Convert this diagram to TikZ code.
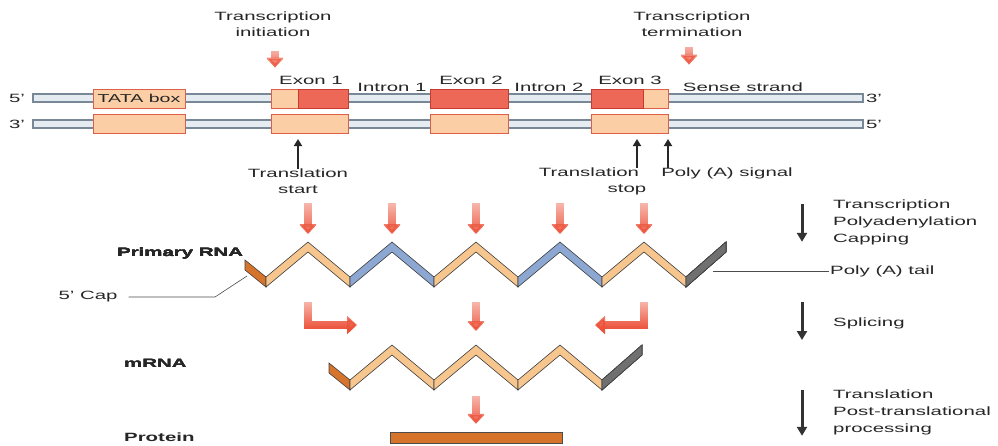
\documentclass[tikz,border=0pt]{standalone}
\usepackage{fontspec}
\setmainfont{Liberation Sans}[FakeStretch=1.7]
\usetikzlibrary{arrows.meta,fadings,positioning}
\definecolor{arrred}{RGB}{236,82,58}
\definecolor{boxfill}{RGB}{252,206,166}
\definecolor{boxline}{RGB}{222,96,74}
\definecolor{codfill}{RGB}{238,104,88}
\definecolor{codline}{RGB}{200,58,48}
\definecolor{strandfill}{RGB}{228,235,241}
\definecolor{strandline}{RGB}{120,136,150}
\definecolor{exontan}{RGB}{246,198,142}
\definecolor{introblue}{RGB}{140,168,210}
\definecolor{tailgray}{RGB}{112,112,112}
\definecolor{capbrown}{RGB}{214,116,44}
\tikzfading[name=fadeup, top color=transparent!65, bottom color=transparent!0]
\tikzset{
  lbl/.style={font=\fontsize{12}{16}\selectfont, align=center, inner sep=1pt, text=black!85},
  boldlbl/.style={lbl, font=\fontsize{12}{16}\selectfont\bfseries},
  stagelbl/.style={lbl, font=\fontsize{12}{17}\selectfont, align=left, anchor=west},
  strand/.style={fill=strandfill, draw=strandline, line width=1.3pt},
  genebox/.style={fill=boxfill, draw=boxline, line width=1pt},
  codbox/.style={fill=codfill, draw=codline, line width=1pt},
  redarr/.style={draw=arrred, line width=8pt, line join=miter, -{Triangle[length=10pt,width=18pt]}, path fading=fadeup},
  blackarr/.style={draw=black!85, line width=2.2pt, -{Triangle[length=7pt,width=8pt]}},
  stagearr/.style={draw=black!80, line width=3pt, -{Triangle[length=9pt,width=10pt]}},
  band/.style={draw=black!75, line width=0.6pt, line join=miter},
  leader/.style={draw=black!70, line width=0.6pt}
}
% one V of the RNA strip: left bottom corner x, y, colour
\newcommand{\vband}[3]{\filldraw[band, fill=#3] (#1,#2) -- ++(42,-35) -- ++(42,35) -- ++(0,-10) -- ++(-42,-35) -- ++(-42,35) -- cycle;}
\newcommand{\capband}[2]{\filldraw[band, fill=capbrown] (#1,#2) -- ++(-21,-17) -- ++(0,-10) -- ++(21,17) -- cycle;}
\newcommand{\tailband}[2]{\filldraw[band, fill=tailgray] (#1,#2) -- ++(40,-35) -- ++(0,-10) -- ++(-40,35) -- cycle;}

\begin{document}
\begin{tikzpicture}[x=1pt, y=-1pt] % pixel like coordinates, y down
\fill[white] (0,0) rectangle (998,445);
\useasboundingbox (0,0) rectangle (998,445);

% the gene: two strands with boxes
\foreach \y in {98,124} \draw[strand] (33,\y-4) rectangle (863,\y+4);
\foreach \a/\b in {93/185,271/348,430/508,591/668}
  {\draw[genebox] (\a,89) rectangle (\b,108); \draw[genebox] (\a,114) rectangle (\b,133);}
\foreach \a/\b in {298/348,430/508,591/643} \draw[codbox] (\a,89) rectangle (\b,108);
\node[lbl, font=\fontsize{11.5}{14}\selectfont] (tata) at (139,98.5) {TATA box};
\node[lbl] (l5) at (17,98) {5'};
\node[lbl] (l3) at (17,124) {3'};
\node[lbl] (r3) at (874,98) {3'};
\node[lbl] (r5) at (874,124) {5'};
\node[lbl] (ex1) at (311,80) {Exon 1};
\node[lbl] (in1) at (392,87) {Intron 1};
\node[lbl] (ex2) at (471,80) {Exon 2};
\node[lbl] (in2) at (549,87) {Intron 2};
\node[lbl] (ex3) at (630,80) {Exon 3};
\node[lbl] (sense) at (743,87) {Sense strand};

% transcription start and end
\node[lbl] (tinit) at (273,24) {Transcription\\initiation};
\node[lbl] (tterm) at (692,24) {Transcription\\termination};
\draw[redarr] ([xshift=2pt,yshift=-13pt]tinit.south) -- ++(0,17);
\draw[redarr] ([xshift=-3pt,yshift=-9pt]tterm.south) -- ++(0,18);

% translation signals
\coordinate (startc) at (298,139);
\coordinate (stopc) at (637,139);
\coordinate (pasc) at (668,139);
\node[lbl] (tstart) at (298,181) {Translation\\start};
\node[lbl] (tstop) at (589,181) {Translation\\\hspace*{76pt}stop};
\node[lbl] (pas) at (727,173) {Poly (A) signal};
\draw[blackarr] ([yshift=-2pt]startc |- tstart.north) -- (startc);
\draw[blackarr] ([yshift=-2pt]stopc |- tstop.north) -- (stopc);
\draw[blackarr] ([yshift=-2pt]pasc |- pas.north) -- (pasc);

% primary RNA
\foreach \x in {308,392,476,560,644} \draw[redarr] (\x,203) -- (\x,234);
\capband{266}{287}
\foreach \x/\c in {266/exontan,350/introblue,434/exontan,518/introblue,602/exontan} \vband{\x}{287}{\c}
\tailband{686}{287}
\node[boldlbl, anchor=west] (prim) at (116,253) {Primary RNA};
\node[lbl] (cap) at (88,297) {5' Cap};
\coordinate (capend) at (247,276);
\draw[leader] ([xshift=10pt]cap.east) -- (215,297) -- (capend);
\coordinate (tailend) at (713,271);
\node[lbl, anchor=west] (ptail) at (829,271) {Poly (A) tail};
\draw[leader] (tailend) -- (ptail.west);

% splicing
\draw[redarr] (308,302) -- (308,325) -- (357,325);
\draw[redarr] (476,302) -- (476,331);
\draw[redarr] (644,302) -- (644,325) -- (595,325);

% mRNA
\capband{350}{390}
\foreach \x in {350,434,518} \vband{\x}{390}{exontan}
\tailband{602}{390}
\node[boldlbl, anchor=west] (mrna) at (123,363) {mRNA};

% protein
\node[draw=black!70, fill=capbrown, minimum width=172pt, minimum height=11pt, inner sep=0pt] (pbar) at (476,437.5) {};
\draw[redarr] ([yshift=36pt]pbar.north) -- ([yshift=8pt]pbar.north);
\node[boldlbl, anchor=west] (prot) at (123,437) {Protein};

% stages on the right
\node[stagelbl] (stg1) at (832,222) {Transcription\\Polyadenylation\\Capping};
\node[stagelbl] (stg2) at (832,323) {Splicing};
\node[stagelbl] (stg3) at (832,412) {Translation\\Post-translational\\processing};
\draw[stagearr] ([xshift=-30pt,yshift=-6pt]stg1.north west) -- ([xshift=-30pt,yshift=4pt]stg1.south west);
\draw[stagearr] ([xshift=-30pt,yshift=21pt]stg2.west) -- ([xshift=-30pt,yshift=-17pt]stg2.west);
\draw[stagearr] ([xshift=-30pt,yshift=-2pt]stg3.north west) -- ([xshift=-30pt,yshift=0pt]stg3.south west);
\end{tikzpicture}
\end{document}
